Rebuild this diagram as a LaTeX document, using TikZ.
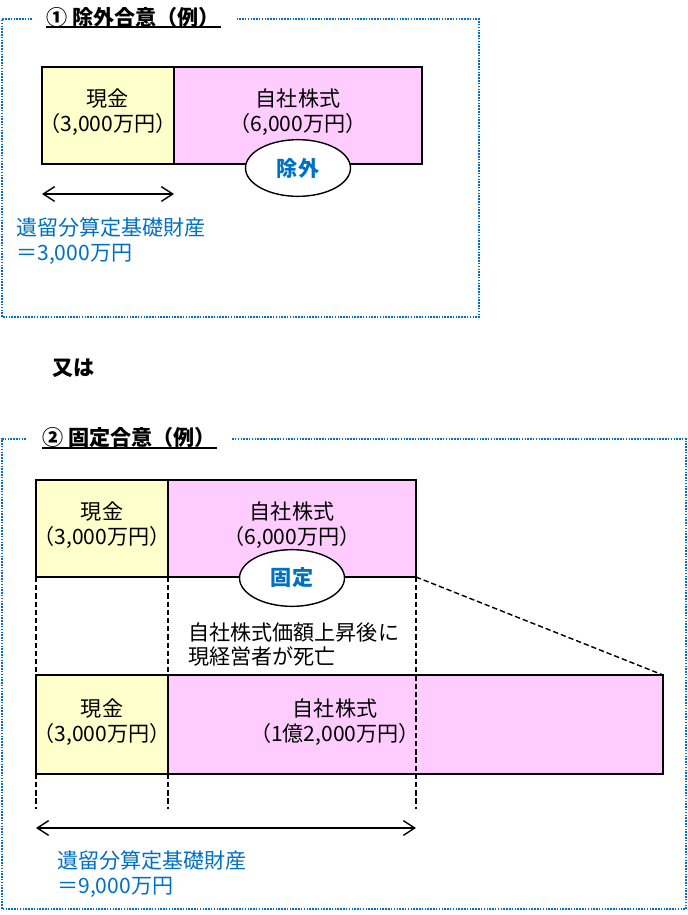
\documentclass[tikz,border=0pt]{standalone}
\usepackage{fontspec}
\setmainfont{Noto Sans CJK JP}
\usetikzlibrary{positioning,shapes.geometric,arrows.meta}
\definecolor{cashfill}{HTML}{FFFFCC}
\definecolor{stockfill}{HTML}{FFCCFF}
\definecolor{noteblue}{HTML}{0070C0}
\tikzset{
    jp/.style={font=\fontsize{18}{21.3}\selectfont},
    jpbold/.style={font=\fontsize{18}{21.3}\selectfont\bfseries},
    asset/.style={draw, line width=1.5pt, inner sep=0pt, outer sep=0pt, minimum height=2.91cm},
    cash/.style={asset, fill=cashfill, minimum width=3.96cm},
    stock/.style={asset, fill=stockfill, minimum width=7.44cm},
    amount/.style={jp, align=center, inner sep=0pt},
    agree/.style={jpbold, ellipse, draw, fill=white, line width=1.2pt, text=noteblue, minimum width=3.15cm, minimum height=1.7cm, inner sep=0pt},
    frame/.style={noteblue, line width=1.3pt, dash pattern=on 1.3pt off 1.1pt},
    guide/.style={line width=1.2pt, dash pattern=on 4.5pt off 2.5pt},
    span/.style={line width=1.2pt, {Straight Barb[length=3.4mm,width=4.4mm]}-{Straight Barb[length=3.4mm,width=4.4mm]}},
    note/.style={jp, text=noteblue, align=left, anchor=west, inner sep=0pt},
    heading/.style={jpbold, anchor=west, inner sep=0pt}
}
\begin{document}
\begin{tikzpicture}[x=0.03cm, y=-0.03cm]
        \useasboundingbox (0,0) rectangle (687,915);
        \draw[frame] (32,19) -- (2,19) -- (2,317) -- (479,317) -- (479,19) -- (237,19);
        \node[heading] (titleA) at (46,17) {① 除外合意（例）};
        \draw[line width=0.9pt] (46,27) -- (221,27);
        \node[cash]  (cashA)  at (108,115.5) {};
        \node[stock] (stockA) at (298,115.5) {};
        \node[amount] (cashAtext)  at (108,112) {現金\\（3,000万円）};
        \node[amount] (stockAtext) at (298,112) {自社株式\\（6,000万円）};
        \node[agree] (cutA)   at (298,168)   {除外};
        \coordinate (spanAL) at (42,194);
        \coordinate (spanAR) at (174,194);
        \draw[span] (spanAL) -- (spanAR);
        \node[note] (baseA) at (16,241.5) {遺留分算定基礎財産\\＝3,000万円};

        \node[heading] (orText) at (52,368) {又は};

        \draw[frame] (26,439) -- (2,439) -- (2,909) -- (686,909) -- (686,439) -- (232,439);
        \node[heading] (titleB) at (42,437) {② 固定合意（例）};
        \draw[line width=0.9pt] (42,448) -- (217,448);
        \node[cash]  (cashB)  at (102,528.5) {};
        \node[stock] (stockB) at (292,528.5) {};
        \node[amount] (cashBtext)  at (102,525) {現金\\（3,000万円）};
        \node[amount] (stockBtext) at (292,525) {自社株式\\（6,000万円）};
        \node[cash, minimum height=2.97cm]  (cashC)  at (102,724.5) {};
        \node[stock, minimum width=14.85cm, minimum height=2.97cm] (stockC) at (415.5,724.5) {};
        \node[amount] (cashCtext)  at (102,722) {現金\\（3,000万円）};
        \node[amount] (stockCtext) at (335,722) {自社株式\\（1億2,000万円）};
        \coordinate (guideEnd) at (0,809);
        \draw[guide] (cashB.south west) -- (cashB.south west |- guideEnd);
        \draw[guide] (cashB.south east) -- (cashB.south east |- guideEnd);
        \draw[guide] (stockB.south east) -- (stockB.south east |- guideEnd);
        \draw[guide] (stockB.south east) -- (stockC.north east);
        \node[agree] (fixB) at (292,578) {固定};
        \node[jp, align=left, anchor=west, inner sep=0pt] (event) at (188,644.5) {自社株式価額上昇後に\\現経営者が死亡};
        \coordinate (spanCL) at (36,828);
        \coordinate (spanCR) at (416,828);
        \draw[span] (spanCL) -- (spanCR);
        \node[note] (baseC) at (57,874.5) {遺留分算定基礎財産\\＝9,000万円};
\end{tikzpicture}
\end{document}
